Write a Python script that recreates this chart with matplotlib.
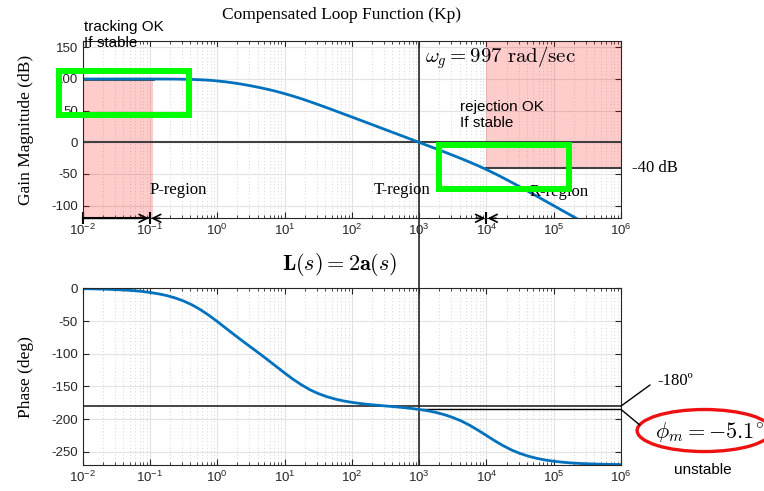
import numpy as np
import matplotlib
matplotlib.use("Agg")
import matplotlib.pyplot as plt
from matplotlib.patches import Rectangle, Ellipse, ConnectionPatch
from matplotlib.ticker import LogLocator, FixedLocator, NullFormatter, FuncFormatter

plt.rcParams["font.family"] = "Liberation Sans"
plt.rcParams["mathtext.fontset"] = "cm"
plt.rcParams["axes.unicode_minus"] = False

# Frequences (rad/s) et valeurs
w = [0.01, 0.01334, 0.0178, 0.02371, 0.0316, 0.04217, 0.0562, 0.07499,
     0.1, 0.1334, 0.178, 0.2371, 0.316, 0.4217, 0.562, 0.7499,
     1.0, 1.334, 1.78, 2.371, 3.16, 4.217, 5.62, 7.499,
     10.0, 13.34, 17.8, 23.71, 31.6, 42.17, 56.2, 74.99,
     100.0, 133.4, 178.0, 237.1, 316.0, 421.7, 562.0, 749.9,
     1000.0, 1334.0, 1780.0, 2371.0, 3160.0, 4217.0, 5620.0, 7499.0,
     1e4, 1.334e4, 1.78e4, 2.371e4, 3.16e4, 4.217e4, 5.62e4, 7.499e4,
     1e5, 1.334e5, 1.78e5, 2.371e5, 3.16e5, 4.217e5, 5.62e5, 7.499e5, 1e6]
mag_db = [100.0, 100.0, 100.0, 100.0, 100.0, 100.0, 100.0, 100.0,
          100.0, 99.9, 99.9, 99.8, 99.6, 99.3, 98.8, 98.1,
          96.9, 95.5, 93.7, 91.6, 89.2, 86.6, 83.7, 80.5,
          76.9, 73.0, 68.8, 64.3, 59.6, 54.8, 49.9, 44.9,
          40.0, 35.0, 30.0, 25.0, 20.0, 15.0, 10.0, 5.0,
          0.0, -5.1, -10.1, -15.2, -20.4, -25.7, -31.2, -36.9,
          -43.0, -49.4, -56.2, -63.2, -70.4, -77.7, -85.1, -92.6,
          -100.0, -107.5, -115.0, -122.5, -130.0, -137.5, -145.0, -152.5, -160.0]
phase_deg = [-0.6, -0.8, -1.1, -1.5, -2.0, -2.7, -3.5, -4.7,
             -6.3, -8.4, -11.1, -14.7, -19.4, -25.3, -32.6, -41.2,
             -50.7, -60.7, -70.7, -80.5, -90.0, -99.5, -109.3, -119.3,
             -129.3, -138.9, -147.4, -154.9, -160.8, -165.5, -169.2, -172.1,
             -174.3, -176.0, -177.5, -178.7, -179.8, -180.9, -182.1, -183.5,
             -185.1, -187.1, -189.7, -193.1, -197.4, -202.7, -209.2, -216.8,
             -224.9, -233.1, -240.6, -247.1, -252.4, -256.6, -259.9, -262.4,
             -264.3, -265.7, -266.8, -267.6, -268.2, -268.6, -269.0, -269.2, -269.4]

wg = 997.0          # pulsation de coupure
pm = -5.1           # marge de phase
p_region = [0.01, 0.11]     # zone P (suivi)
p_spec = 100.0
r_region = [1e4, 1e6]       # zone R (rejet)
r_spec = -40.0

blue = "#0072BD"
pink = (1.0, 0.0, 0.0, 0.2)
lime = "#00FF00"
serif = "Liberation Serif"

fig = plt.figure(figsize=(7.64, 4.91), dpi=100)
ax1 = fig.add_axes([0.1082, 0.5554, 0.7046, 0.3611])
ax2 = fig.add_axes([0.1082, 0.0530, 0.7046, 0.3598])


def style_axes(ax, yticks, ylim):
    ax.set_xscale("log")
    ax.set_xlim(1e-2, 1e6)
    ax.set_ylim(*ylim)
    ax.xaxis.set_major_locator(LogLocator(base=10, numticks=20))
    ax.xaxis.set_minor_locator(LogLocator(base=10, subs=np.arange(2, 10), numticks=100))
    ax.xaxis.set_minor_formatter(NullFormatter())
    ax.xaxis.set_major_formatter(FuncFormatter(
        lambda v, p: r"$\mathregular{10^{%d}}$" % round(np.log10(v))))
    ax.yaxis.set_major_locator(FixedLocator(yticks))
    ax.tick_params(which="both", direction="in", top=True, right=True,
                   colors="#262626", labelsize=9.5)
    ax.tick_params(which="major", length=4)
    ax.tick_params(which="minor", length=2)
    ax.grid(True, which="major", color="#e3e3e3", lw=0.8)
    ax.grid(True, which="minor", axis="x", color="#c8c8c8", lw=0.6, ls=(0, (1, 3)))
    ax.set_axisbelow(True)
    for s in ax.spines.values():
        s.set_color("#262626")
        s.set_linewidth(0.8)


style_axes(ax1, [-100, -50, 0, 50, 100, 150], (-120, 160))
style_axes(ax2, [-250, -200, -150, -100, -50, 0], (-270, 0))

# --- Gain ---
ax1.fill_between(p_region, -120, p_spec, color=pink, lw=0)
ax1.fill_between(r_region, r_spec, 160, color=pink, lw=0)
ax1.plot(p_region, [p_spec, p_spec], color="#404040", lw=2)
ax1.plot(r_region, [r_spec, r_spec], color="#404040", lw=1.5)
ax1.axhline(0, color="#404040", lw=1.5)
ax1.axvline(wg, color="#262626", lw=1.2)
ax1.plot(w, mag_db, color=blue, lw=2)

ax1.set_ylabel("Gain Magnitude (dB)", family=serif, fontsize=12.5, labelpad=12)
ax1.text(0.002, 1.118, "tracking OK\nIf stable", transform=ax1.transAxes,
         fontsize=11, va="top", ha="left", linespacing=1.15)
ax1.text(0.701, 0.667, "rejection OK\nIf stable", transform=ax1.transAxes,
         fontsize=11, va="top", ha="left", linespacing=1.15)
ax1.text(0.636, 0.904, r"$\omega_g = 997\ \mathrm{rad/sec}$", transform=ax1.transAxes,
         fontsize=15, va="center", ha="left")
for label, xf, yf in [("P-region", 0.125, 0.160), ("T-region", 0.541, 0.160),
                      ("R-region", 0.831, 0.148)]:
    ax1.text(xf, yf, label, transform=ax1.transAxes, family=serif,
             fontsize=12, va="center", ha="left")
ax1.annotate("-40 dB", xy=(1.02, r_spec), xycoords=("axes fraction", "data"),
             family=serif, fontsize=12, va="center", ha="left")

# fleches de zones sur l'axe
arr = dict(arrowstyle="->", lw=1.2, color="k", mutation_scale=14, shrinkA=0, shrinkB=0)
ax1.annotate("", xy=(p_region[0] * 9.6, -120), xytext=(p_region[0], -120),
             arrowprops=arr, annotation_clip=False)
ax1.annotate("", xy=(p_region[0] * 10.4, -120), xytext=(p_region[0] * 14, -120),
             arrowprops=arr, annotation_clip=False)
ax1.annotate("", xy=(r_region[0] * 0.96, -120), xytext=(r_region[0] * 0.7, -120),
             arrowprops=arr, annotation_clip=False)
ax1.annotate("", xy=(r_region[0] * 1.04, -120), xytext=(r_region[0] * 1.4, -120),
             arrowprops=arr, annotation_clip=False)
ax1.plot([p_region[0], p_region[0] * 10, r_region[0]], [-120, -120, -120],
         ls="none", marker="|", ms=9, mew=1.5, color="k", clip_on=False)
ax1.plot([p_region[0], p_region[0] * 10], [-120, -120], color="k", lw=1.5, clip_on=False)

# rectangles verts
ax1.add_patch(Rectangle((10 ** -2.352, 43.5), 10 ** -0.42 - 10 ** -2.352, 69.5,
                        fill=False, ec=lime, lw=4.3, clip_on=False, zorder=10))
ax1.add_patch(Rectangle((1970, -74.4), 1.68e5 - 1970, 70.0,
                        fill=False, ec=lime, lw=4.3, clip_on=False, zorder=10))

# --- Phase ---
ax2.axhline(-180, color="#262626", lw=1.2)
ax2.plot([wg * 1.15, 1e6], [-180 + pm, -180 + pm], color="k", lw=1.0)
ax2.axvline(wg, color="#262626", lw=1.2)
ax2.plot(w, phase_deg, color=blue, lw=2)
ax2.set_ylabel("Phase (deg)", family=serif, fontsize=12.5, labelpad=12)

ax2.annotate("", xy=(1e6, -180), xytext=(1.054, 0.453), textcoords="axes fraction",
             arrowprops=dict(arrowstyle="-", lw=1, color="k", shrinkA=0, shrinkB=0),
             annotation_clip=False)
ax2.annotate("", xy=(1e6, -180 + pm), xytext=(1.035, 0.226), textcoords="axes fraction",
             arrowprops=dict(arrowstyle="-", lw=1, color="k", shrinkA=0, shrinkB=0),
             annotation_clip=False)
ax2.text(1.067, 0.475, "-180º", transform=ax2.transAxes, family=serif,
         fontsize=12, va="center", ha="left")
ax2.text(1.063, 0.188, r"$\phi_m = -5.1^{\circ}$", transform=ax2.transAxes,
         fontsize=16, va="center", ha="left")
ax2.add_patch(Ellipse((1.155, 0.195), 0.25, 0.238, transform=ax2.transAxes,
                      fill=False, ec="#ee1111", lw=2.4, clip_on=False))
ax2.text(1.152, -0.028, "unstable", transform=ax2.transAxes,
         fontsize=11, va="center", ha="center")

# ligne verticale entre les deux graphes
con = ConnectionPatch(xyA=(wg, -120), coordsA=ax1.transData,
                      xyB=(wg, 0), coordsB=ax2.transData, color="#262626", lw=1.2)
fig.add_artist(con)

fig.text(341 / 764, 1 - 15 / 491, "Compensated Loop Function (Kp)", family=serif,
         fontsize=12.5, ha="center", va="center")
fig.text(340 / 764, 1 - 265 / 491, r"$\mathbf{L}(s) = 2\mathbf{a}(s)$",
         fontsize=16, ha="center", va="center")

fig.savefig("out.png", dpi=100)
